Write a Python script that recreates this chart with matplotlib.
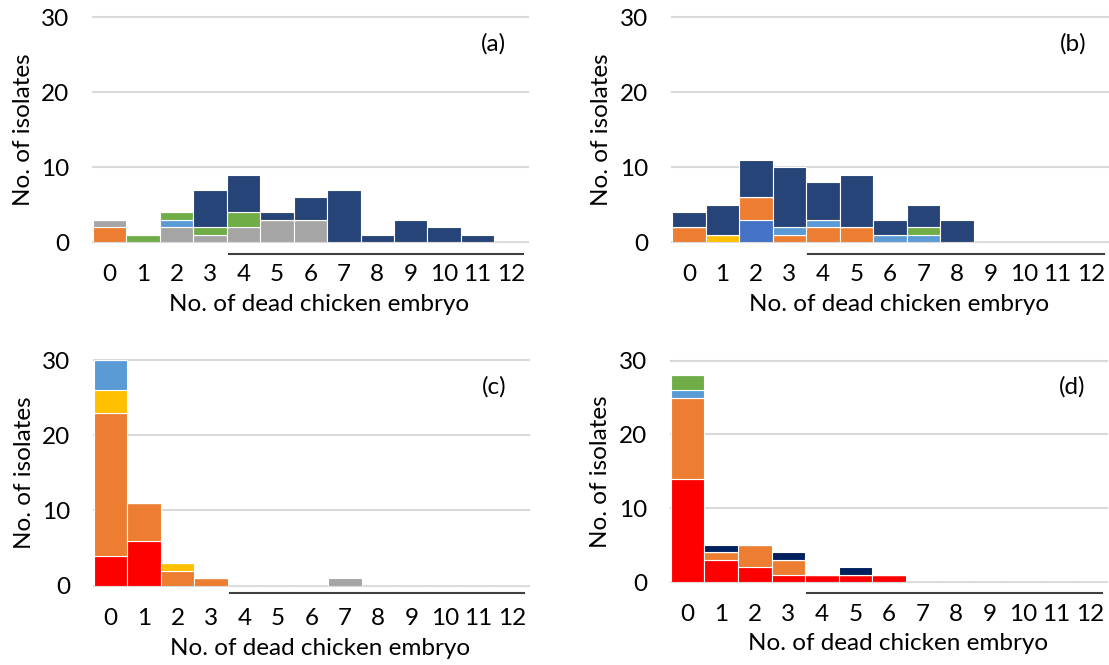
import matplotlib
matplotlib.use("Agg")
import matplotlib.pyplot as plt
import numpy as np

plt.rcParams['font.family'] = ['Lato', 'DejaVu Sans']

cats = list(range(13))
tick_labels = [str(c) for c in cats]
xlabel = "No. of dead chicken embryo"
ylabel = "No. of isolates"

# panel (a)
a_orange = [2, 0, 0, 0, 0, 0, 0, 0, 0, 0, 0, 0, 0]
a_grey = [1, 0, 2, 1, 2, 3, 3, 0, 0, 0, 0, 0, 0]
a_lblue = [0, 0, 1, 0, 0, 0, 0, 0, 0, 0, 0, 0, 0]
a_green = [0, 1, 1, 1, 2, 0, 0, 0, 0, 0, 0, 0, 0]
a_navy = [0, 0, 0, 5, 5, 1, 3, 7, 1, 3, 2, 1, 0]

# panel (b)
b_blue = [0, 0, 3, 0, 0, 0, 0, 0, 0, 0, 0, 0, 0]
b_orange = [2, 0, 3, 1, 2, 2, 0, 0, 0, 0, 0, 0, 0]
b_yellow = [0, 1, 0, 0, 0, 0, 0, 0, 0, 0, 0, 0, 0]
b_lblue = [0, 0, 0, 1, 1, 0, 1, 1, 0, 0, 0, 0, 0]
b_green = [0, 0, 0, 0, 0, 0, 0, 1, 0, 0, 0, 0, 0]
b_navy = [2, 4, 5, 8, 5, 7, 2, 3, 3, 0, 0, 0, 0]

# panel (c)
c_red = [4, 6, 0, 0, 0, 0, 0, 0, 0, 0, 0, 0, 0]
c_orange = [19, 5, 2, 1, 0, 0, 0, 0, 0, 0, 0, 0, 0]
c_yellow = [3, 0, 1, 0, 0, 0, 0, 0, 0, 0, 0, 0, 0]
c_lblue = [4, 0, 0, 0, 0, 0, 0, 0, 0, 0, 0, 0, 0]
c_grey = [0, 0, 0, 0, 0, 0, 0, 1, 0, 0, 0, 0, 0]

# panel (d)
d_red = [14, 3, 2, 1, 1, 1, 1, 0, 0, 0, 0, 0, 0]
d_orange = [11, 1, 3, 2, 0, 0, 0, 0, 0, 0, 0, 0, 0]
d_lblue = [1, 0, 0, 0, 0, 0, 0, 0, 0, 0, 0, 0, 0]
d_green = [2, 0, 0, 0, 0, 0, 0, 0, 0, 0, 0, 0, 0]
d_navy = [0, 1, 0, 1, 0, 1, 0, 0, 0, 0, 0, 0, 0]

ORANGE = '#ED7D31'
GREY = '#A5A5A5'
LBLUE = '#5B9BD5'
GREEN = '#70AD47'
NAVY = '#264478'
DNAVY = '#002060'
BLUE = '#4472C4'
YELLOW = '#FFC000'
RED = '#FF0000'

FS = 17.5

panels = [
    ('(a)', [0.0839, 0.636, 0.392, 0.338],
     [(a_orange, ORANGE), (a_grey, GREY), (a_lblue, LBLUE), (a_green, GREEN), (a_navy, NAVY)], -0.053),
    ('(b)', [0.606, 0.636, 0.393, 0.338],
     [(b_blue, BLUE), (b_orange, ORANGE), (b_yellow, YELLOW), (b_lblue, LBLUE), (b_green, GREEN), (b_navy, NAVY)], -0.053),
    ('(c)', [0.0848, 0.1193, 0.392, 0.3393],
     [(c_red, RED), (c_orange, ORANGE), (c_yellow, YELLOW), (c_lblue, LBLUE), (c_grey, GREY)], -0.034),
    ('(d)', [0.605, 0.1248, 0.393, 0.3328],
     [(d_red, RED), (d_orange, ORANGE), (d_lblue, LBLUE), (d_green, GREEN), (d_navy, DNAVY)], -0.05),
]

fig = plt.figure(figsize=(11.09, 6.65), dpi=100)

for label, rect, series, line_y in panels:
    ax = fig.add_axes(rect)
    bottom = np.zeros(len(cats))
    for vals, col in series:
        v = np.array(vals, dtype=float)
        ax.bar(cats, v, width=1.0, bottom=bottom, color=col,
               edgecolor='white', linewidth=0.8, zorder=3)
        bottom += v
    ax.set_xlim(-0.5, 12.5)
    ax.set_ylim(0, 30)
    for g in [10, 20, 30]:
        ax.axhline(g, color='#D9D9D9', lw=1.5, zorder=1, clip_on=False)
    for s in ['top', 'right', 'left']:
        ax.spines[s].set_visible(False)
    ax.spines['bottom'].set_color('#D9D9D9')
    ax.spines['bottom'].set_linewidth(1.5)
    ax.set_xticks(cats)
    ax.set_xticklabels(tick_labels)
    ax.set_yticks([0, 10, 20, 30])
    ax.tick_params(axis='x', length=0, pad=16, labelsize=FS, colors='black')
    ax.tick_params(axis='y', length=0, pad=17, labelsize=FS, colors='black')
    ax.text(0.52, -0.28, xlabel, transform=ax.transAxes, ha='center',
            va='center', fontsize=FS)
    ax.text(-0.161, 0.5, ylabel, transform=ax.transAxes, ha='center',
            va='center', rotation=90, fontsize=FS)
    ax.text(0.92, 0.88, label, transform=ax.transAxes, ha='center',
            va='center', fontsize=FS)
    ax.plot([0.312, 0.99], [line_y, line_y], transform=ax.transAxes,
            color='#404040', lw=1.5, clip_on=False)

fig.savefig('out.png', dpi=100)
